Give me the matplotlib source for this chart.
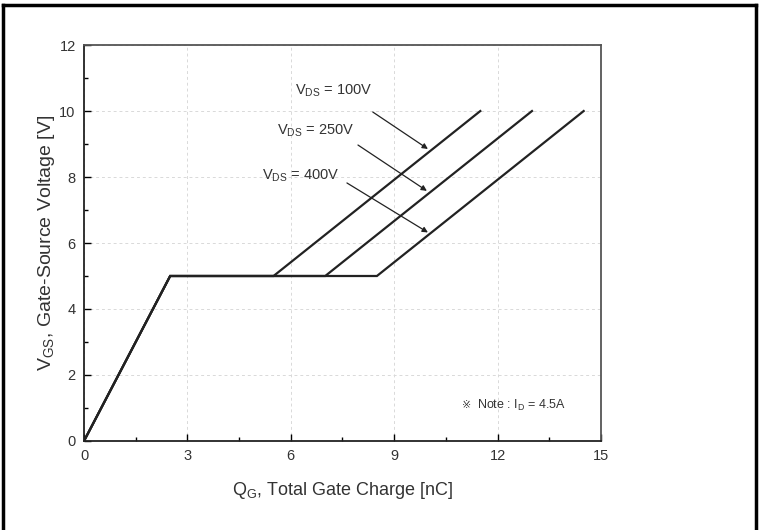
import numpy as np
import matplotlib
matplotlib.use("Agg")
import matplotlib.pyplot as plt
from matplotlib.lines import Line2D
from matplotlib.ticker import MultipleLocator

plt.rcParams["font.family"] = ["Liberation Sans", "DejaVu Sans"]
plt.rcParams["mathtext.fontset"] = "custom"
plt.rcParams["mathtext.rm"] = "Liberation Sans"
plt.rcParams["mathtext.it"] = "Liberation Sans"

# gate charge curves: (Qg [nC], Vgs [V]) break points
vds_labels = ["100V", "250V", "400V"]
plateau_end = [5.5, 7.0, 8.5]
final_charge = [11.5, 13.0, 14.5]
knee_charge = 2.5
plateau_v = 5.0
final_v = 10.0

# annotation text position and arrow (start -> tip) in data units
label_xy = [(6.12, 10.6), (5.6, 9.4), (5.16, 8.05)]
arrow_start = [(8.38, 9.97), (7.95, 8.97), (7.63, 7.82)]
arrow_tip = [(9.98, 8.85), (9.95, 7.58), (9.98, 6.32)]
note_xy = (10.97, 1.09)

text_color = "#333333"

fig = plt.figure(figsize=(7.59, 5.30), dpi=100)
ax = fig.add_axes([0.1107, 0.168, 0.681, 0.747])

for pe, fe in zip(plateau_end, final_charge):
    q = [0, knee_charge, pe, fe]
    v = [0, plateau_v, plateau_v, final_v]
    ax.plot(q, v, color="#222222", lw=1.6, solid_joinstyle="miter")

for lab, (tx, ty), s, t in zip(vds_labels, label_xy, arrow_start, arrow_tip):
    ax.text(tx, ty, r"V$_{\mathregular{DS}}$ = " + lab, fontsize=10.5,
            color=text_color, ha="left", va="center")
    ax.annotate("", xy=t, xytext=s,
                arrowprops=dict(arrowstyle="-|>", color="#222222", lw=0.9,
                                mutation_scale=8, shrinkA=0, shrinkB=0))

# note: reference mark drawn in a font that has it
ax.text(note_xy[0], note_xy[1], "※", fontsize=8, family="DejaVu Sans",
        color=text_color, ha="left", va="center")
ax.annotate(r"Note : I$_{\mathregular{D}}$ = 4.5A", xy=note_xy,
            xytext=(11, 0), textcoords="offset points", fontsize=9,
            color=text_color, ha="left", va="center")

ax.set_xlim(0, 15)
ax.set_ylim(0, 12)
ax.xaxis.set_major_locator(MultipleLocator(3))
ax.xaxis.set_minor_locator(MultipleLocator(1.5))
ax.yaxis.set_major_locator(MultipleLocator(2))
ax.yaxis.set_minor_locator(MultipleLocator(1))
ax.tick_params(which="major", direction="in", length=5, width=1.0,
               labelsize=10.5, labelcolor=text_color, pad=6)
ax.tick_params(which="minor", direction="in", length=3, width=1.0)
ax.grid(True, which="major", color="#d9d9d9", linestyle=(0, (3, 3)), lw=0.7)
for sp in ax.spines.values():
    sp.set_color("#555555")
    sp.set_linewidth(1.3)
ax.spines["bottom"].set_color("#222222")
ax.spines["left"].set_color("#222222")

ax.set_xlabel(r"Q$_{\mathregular{G}}$, Total Gate Charge [nC]", fontsize=13,
              color=text_color, labelpad=12)
ax.set_ylabel(r"V$_{\mathregular{GS}}$, Gate-Source Voltage [V]", fontsize=14,
              color=text_color, labelpad=2)

# outer table border (top, left, right)
fig.add_artist(Line2D([0.004, 0.996], [0.991, 0.991], color="black", lw=2.5,
                      transform=fig.transFigure))
fig.add_artist(Line2D([0.004, 0.004], [0.0, 0.991], color="black", lw=2.5,
                      transform=fig.transFigure))
fig.add_artist(Line2D([0.996, 0.996], [0.0, 0.991], color="black", lw=2.5,
                      transform=fig.transFigure))

fig.savefig("out.png", dpi=100)
